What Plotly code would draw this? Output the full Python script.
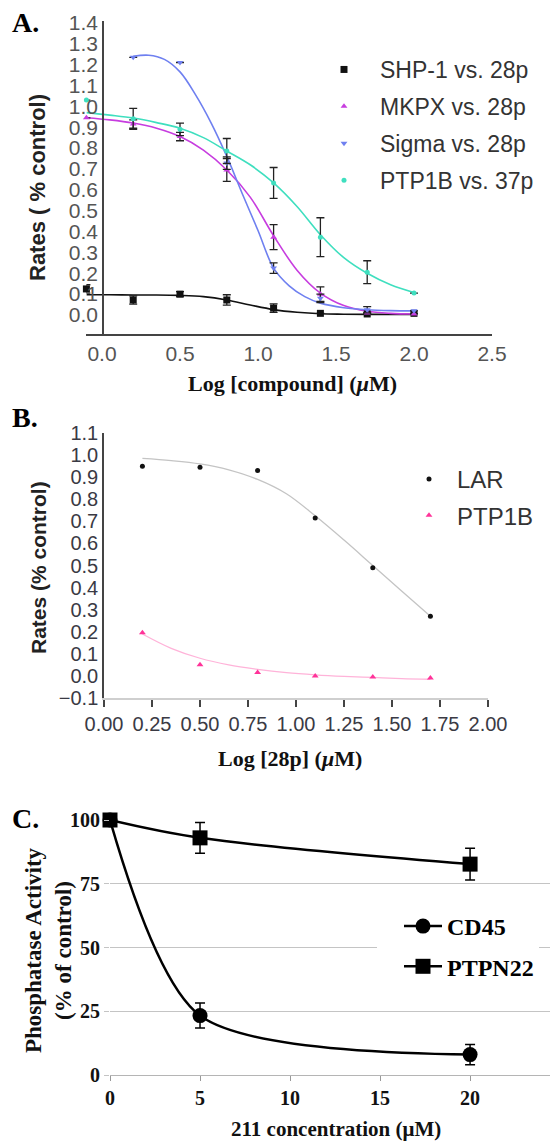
import plotly.graph_objects as go

W, H = 550, 1144


def fx(p):
    return p / W


def fy(p):
    return 1 - p / H


SANS = "Liberation Sans, Arial, sans-serif"
SERIF = "Liberation Serif, Times New Roman, serif"

# ---------------- Panel A data ----------------
logA = [-0.1, 0.2, 0.5, 0.8, 1.1, 1.4, 1.7, 2.0]
logA_sigma = [0.2, 0.5, 0.8, 1.1, 1.4, 1.7, 2.0]
shp1 = [0.125, 0.072, 0.100, 0.072, 0.033, 0.008, 0.005, 0.008]
shp1_err = [0.02, 0.02, 0.012, 0.025, 0.02, 0.0, 0.0, 0.0]
mkpx = [0.945, 0.915, 0.855, 0.695, 0.373, 0.100, 0.010, 0.005]
mkpx_err = [0.0, 0.02, 0.02, 0.055, 0.06, 0.035, 0.0, 0.0]
sigma = [1.235, 1.210, 0.728, 0.225, 0.080, 0.025, 0.020]
sigma_err = [0.0, 0.0, 0.03, 0.025, 0.02, 0.015, 0.0]
ptp1b37 = [1.030, 0.940, 0.890, 0.786, 0.633, 0.373, 0.205, 0.105]
ptp1b37_err = [0.0, 0.05, 0.03, 0.06, 0.074, 0.093, 0.055, 0.0]

fitA_x = [-0.1, 0.05, 0.2, 0.35, 0.5, 0.65, 0.8, 0.95, 1.1, 1.25, 1.4, 1.55, 1.7, 1.85, 2.0]
shp1_fit = [0.097, 0.097, 0.096, 0.096, 0.094, 0.088, 0.072, 0.048, 0.026, 0.013, 0.006, 0.004, 0.003, 0.003, 0.003]
mkpx_fit = [0.945, 0.935, 0.920, 0.895, 0.855, 0.790, 0.695, 0.565, 0.380, 0.215, 0.105, 0.045, 0.018, 0.008, 0.005]
ptp1b37_fit = [0.970, 0.958, 0.944, 0.922, 0.895, 0.850, 0.786, 0.720, 0.633, 0.520, 0.385, 0.275, 0.200, 0.145, 0.108]
fitA_sigma_x = [0.2, 0.3, 0.4, 0.5, 0.6, 0.7, 0.8, 0.9, 1.0, 1.1, 1.2, 1.3, 1.4, 1.55, 1.7, 1.85, 2.0]
sigma_fit = [1.240, 1.245, 1.225, 1.165, 1.055, 0.920, 0.760, 0.580, 0.405, 0.225, 0.140, 0.088, 0.057, 0.035, 0.025, 0.021, 0.020]

xticksA = [0.0, 0.5, 1.0, 1.5, 2.0, 2.5]

# ---------------- Panel B data ----------------
logB = [0.2, 0.5, 0.8, 1.1, 1.4, 1.7]
lar = [0.950, 0.945, 0.930, 0.715, 0.490, 0.270]
ptp1b_b = [0.195, 0.050, 0.015, 0.000, -0.005, -0.010]
fitB_x = [0.2, 0.35, 0.5, 0.65, 0.8, 0.95, 1.1, 1.25, 1.4, 1.55, 1.7]
lar_fit = [0.985, 0.975, 0.960, 0.933, 0.890, 0.825, 0.725, 0.615, 0.500, 0.385, 0.270]
ptp1b_b_fit = [0.190, 0.125, 0.080, 0.050, 0.030, 0.015, 0.005, -0.002, -0.007, -0.012, -0.015]

# ---------------- Panel C data ----------------
concC = [0, 5, 20]
cd45 = [100, 23.3, 8.0]
cd45_err = [0, 4.9, 4.0]
ptpn22 = [100, 93.0, 82.7]
ptpn22_err = [0, 6.0, 6.2]

fig = go.Figure()

ERR = dict(type="data", visible=True, color="#222", thickness=1.3, width=4)

# ---- Panel A traces ----
colA = {"shp1": "#111111", "mkpx": "#c73ddf", "sigma": "#6f80f0", "ptp": "#3fdfbf"}
for xs, ys, c in [(fitA_x, shp1_fit, colA["shp1"]), (fitA_x, mkpx_fit, colA["mkpx"]),
                  (fitA_sigma_x, sigma_fit, colA["sigma"]), (fitA_x, ptp1b37_fit, colA["ptp"])]:
    fig.add_trace(go.Scatter(x=xs, y=ys, mode="lines", line=dict(color=c, width=1.6, shape="spline"),
                             showlegend=False, hoverinfo="skip", xaxis="x", yaxis="y"))

for name, xs, ys, es, c, sym, sz in [
    ("SHP-1 vs. 28p", logA, shp1, shp1_err, colA["shp1"], "square", 7),
    ("MKPX vs. 28p", logA, mkpx, mkpx_err, colA["mkpx"], "triangle-up", 6),
    ("Sigma vs. 28p", logA_sigma, sigma, sigma_err, colA["sigma"], "triangle-down", 6),
    ("PTP1B vs. 37p", logA, ptp1b37, ptp1b37_err, colA["ptp"], "circle", 5),
]:
    fig.add_trace(go.Scatter(x=xs, y=ys, mode="markers", name=name,
                             marker=dict(color=c, symbol=sym, size=sz),
                             error_y=dict(array=es, **ERR), cliponaxis=False,
                             legend="legend", legendgroup=name, xaxis="x", yaxis="y"))

# ---- Panel B traces ----
fig.add_trace(go.Scatter(x=fitB_x, y=lar_fit, mode="lines", line=dict(color="#c4c4c4", width=1.3, shape="spline"),
                         showlegend=False, hoverinfo="skip", xaxis="x2", yaxis="y2"))
fig.add_trace(go.Scatter(x=fitB_x, y=ptp1b_b_fit, mode="lines", line=dict(color="#ffb3d9", width=1.3, shape="spline"),
                         showlegend=False, hoverinfo="skip", xaxis="x2", yaxis="y2"))
fig.add_trace(go.Scatter(x=logB, y=lar, mode="markers", name="LAR", marker=dict(color="#111", size=5),
                         legend="legend2", legendgroup="LAR", cliponaxis=False, xaxis="x2", yaxis="y2"))
fig.add_trace(go.Scatter(x=logB, y=ptp1b_b, mode="markers", name="PTP1B",
                         marker=dict(color="#ff3399", size=6, symbol="triangle-up"),
                         legend="legend2", legendgroup="PTP1B", cliponaxis=False, xaxis="x2", yaxis="y2"))

# ---- Panel C traces ----
fig.add_trace(go.Scatter(x=concC, y=cd45, mode="lines+markers", name="CD45",
                         line=dict(color="#000", width=2.5, shape="spline", smoothing=0.8),
                         marker=dict(color="#000", size=15, symbol="circle"),
                         error_y=dict(array=cd45_err, type="data", visible=True, color="#000", thickness=1.5, width=5),
                         legend="legend3", legendgroup="CD45", cliponaxis=False, xaxis="x3", yaxis="y3"))
fig.add_trace(go.Scatter(x=concC, y=ptpn22, mode="lines+markers", name="PTPN22",
                         line=dict(color="#000", width=2.5, shape="spline", smoothing=1.0),
                         marker=dict(color="#000", size=15, symbol="square"),
                         error_y=dict(array=ptpn22_err, type="data", visible=True, color="#000", thickness=1.5, width=5),
                         legend="legend3", legendgroup="PTPN22", cliponaxis=False, xaxis="x3", yaxis="y3"))

# ---------------- Layout ----------------
A_x0, A_x1, A_top, A_bot = 86.4, 492, 21, 334
B_x0, B_x1, B_top, B_bot = 104, 488, 433, 698
C_x0, C_x1, C_top, C_bot = 110, 550, 820, 1075

fig.update_layout(
    width=W, height=H, margin=dict(l=0, r=0, t=0, b=0, autoexpand=False),
    paper_bgcolor="white", plot_bgcolor="white",
    showlegend=True,
    xaxis=dict(domain=[fx(A_x0), fx(A_x1)], range=[-0.1, 2.5], anchor="y",
               showline=True, linecolor="#444", linewidth=1.5, showgrid=False, zeroline=False,
               tickvals=xticksA, tickformat=".1f", ticks="",
               tickfont=dict(family=SANS, size=21, color="#555")),
    yaxis=dict(domain=[fy(A_bot), fy(A_top)], range=[-0.091, 1.409], anchor="free", position=fx(103),
               showline=True, linecolor="#444", linewidth=1.5, showgrid=False, zeroline=False,
               tick0=0, dtick=0.1, tickformat=".1f", ticks="",
               tickfont=dict(family=SANS, size=21, color="#555")),
    xaxis2=dict(domain=[fx(B_x0), fx(B_x1)], range=[0, 2.0], anchor="y2",
                showline=True, linecolor="#cfcfcf", linewidth=1.5, showgrid=False, zeroline=False,
                tick0=0, dtick=0.25, tickformat=".2f", ticks="outside", ticklen=7, tickcolor="#444", tickwidth=1.5,
                tickfont=dict(family=SANS, size=20, color="#3a3a44")),
    yaxis2=dict(domain=[fy(B_bot), fy(B_top)], range=[-0.1, 1.1], anchor="x2",
                showline=True, linecolor="#444", linewidth=1.5, showgrid=False, zeroline=False,
                tick0=0, dtick=0.1, tickformat=".1f", ticks="",
                tickfont=dict(family=SANS, size=20, color="#3a3a44")),
    xaxis3=dict(domain=[fx(C_x0), fx(C_x1)], range=[0, 24.44], anchor="y3",
                showline=True, linecolor="#b5b5b5", linewidth=1.2, showgrid=False, zeroline=False,
                tick0=0, dtick=5, ticks="outside", ticklen=5, tickcolor="#999",
                tickfont=dict(family=SERIF, size=20, color="#111", weight="bold")),
    yaxis3=dict(domain=[fy(C_bot), fy(C_top)], range=[0, 100], anchor="x3",
                showline=False, showgrid=True, gridcolor="#c4c4c4", gridwidth=1.2, zeroline=False,
                tick0=0, dtick=25, ticks="outside", ticklen=5, tickcolor="#c4c4c4",
                tickfont=dict(family=SERIF, size=20, color="#111", weight="bold")),
    legend=dict(x=fx(308), y=fy(48), xanchor="left", yanchor="top", bgcolor="rgba(0,0,0,0)",
                font=dict(family=SANS, size=23, color="#333"), itemwidth=62, tracegroupgap=4),
    legend2=dict(x=fx(401), y=fy(457), xanchor="left", yanchor="top", bgcolor="rgba(0,0,0,0)",
                 font=dict(family=SANS, size=24, color="#333"), itemwidth=46, tracegroupgap=2),
    legend3=dict(x=fx(377), y=fy(904), xanchor="left", yanchor="top", bgcolor="white",
                 font=dict(family=SERIF, size=24, color="#000", weight="bold"), itemwidth=38,
                 indentation=22, tracegroupgap=6),
)

ann = [
    dict(text="A.", x=fx(10), y=fy(22), xanchor="left", yanchor="middle",
         font=dict(family=SERIF, size=28, color="#000", weight="bold")),
    dict(text="B.", x=fx(10), y=fy(417), xanchor="left", yanchor="middle",
         font=dict(family=SERIF, size=28, color="#000", weight="bold")),
    dict(text="C.", x=fx(10), y=fy(818), xanchor="left", yanchor="middle",
         font=dict(family=SERIF, size=28, color="#000", weight="bold")),
    dict(text="Rates ( % control)", x=fx(37), y=fy(188), textangle=-90, xanchor="center", yanchor="middle",
         font=dict(family=SANS, size=22, color="#222", weight="bold")),
    dict(text="Log [compound] (<i>μ</i>M)", x=fx(292), y=fy(383), xanchor="center", yanchor="middle",
         font=dict(family=SERIF, size=22, color="#111", weight="bold")),
    dict(text="Rates (% control)", x=fx(38), y=fy(568), textangle=-90, xanchor="center", yanchor="middle",
         font=dict(family=SANS, size=21, color="#222", weight="bold")),
    dict(text="Log [28p] (<i>μ</i>M)", x=fx(290), y=fy(758), xanchor="center", yanchor="middle",
         font=dict(family=SERIF, size=22, color="#111", weight="bold")),
    dict(text="Phosphatase Activity<br>(% of control)", x=fx(48), y=fy(950), textangle=-90,
         xanchor="center", yanchor="middle",
         font=dict(family=SERIF, size=23, color="#111", weight="bold")),
    dict(text="211 concentration (μM)", x=fx(336), y=fy(1129), xanchor="center", yanchor="middle",
         font=dict(family=SERIF, size=21, color="#111", weight="bold")),
]
for a in ann:
    a.update(xref="paper", yref="paper", showarrow=False)
fig.update_layout(annotations=ann)

fig.write_html(
    "out.html",
    config={"displayModeBar": False},
    post_script="document.body.style.margin='0px';document.body.style.padding='0px';",
)
